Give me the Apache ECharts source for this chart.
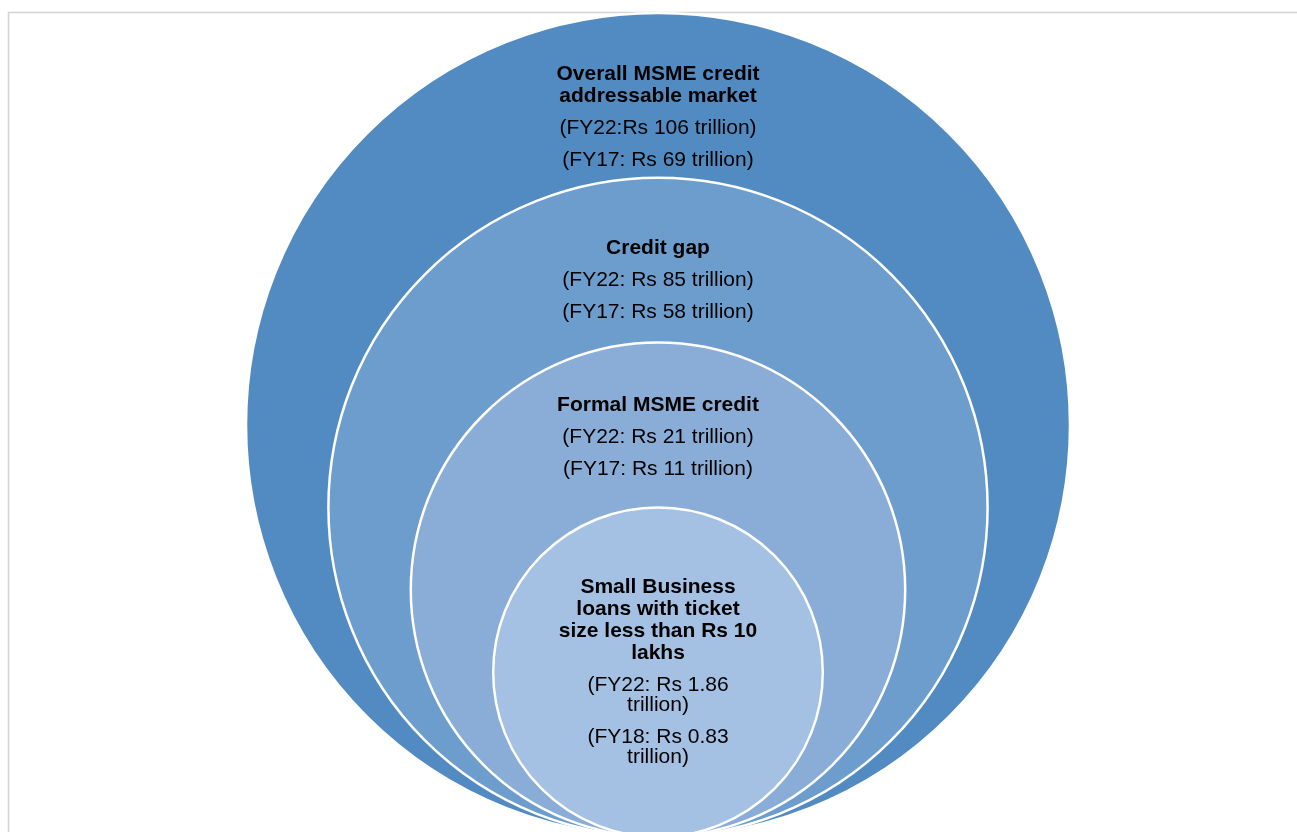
<!DOCTYPE html>
<html>
<head>
<meta charset="utf-8">
<script src="https://cdn.jsdelivr.net/npm/echarts@6/dist/echarts.min.js"></script>
<style>
  html, body { margin: 0; padding: 0; background: #fff; }
  #chart { width: 1297px; height: 832px; }
</style>
</head>
<body>
<div id="chart"></div>
<script>
// nested rings, outermost first
const levels = [0, 1, 2, 3]
const titles = [
  'Overall MSME credit\naddressable market',
  'Credit gap',
  'Formal MSME credit',
  'Small Business\nloans with ticket\nsize less than Rs 10\nlakhs'
]
const fy22Labels = [
  '(FY22:Rs 106 trillion)',
  '(FY22: Rs 85 trillion)',
  '(FY22: Rs 21 trillion)',
  '(FY22: Rs 1.86\ntrillion)'
]
const fy17Labels = [
  '(FY17: Rs 69 trillion)',
  '(FY17: Rs 58 trillion)',
  '(FY17: Rs 11 trillion)',
  '(FY18: Rs 0.83\ntrillion)'
]

const colors = ['#518BC1', '#6C9DCD', '#89ADD6', '#A4C1E4']
const textTop = [61, 70, 63, 80] // first line centre below circle top (px)
const FONT = 'Arial, "Liberation Sans", sans-serif'

const chart = echarts.init(document.getElementById('chart'))

function renderItem(params, api) {
  const lv = api.value(0)
  const r = 1 - 0.2 * lv // radius in axis units, all circles touch at the bottom
  const c = api.coord([0, r])
  const rp = api.size([r, r])[1]
  const top = c[1] - rp
  const children = [{
    type: 'circle',
    shape: { cx: c[0], cy: c[1], r: rp },
    style: { fill: colors[lv], stroke: '#fff', lineWidth: 2.5 }
  }]
  let y = top + textTop[lv]
  const blocks = [
    { lines: titles[lv].split('\n'), bold: true, step: 22 },
    { lines: fy22Labels[lv].split('\n'), bold: false, step: 20 },
    { lines: fy17Labels[lv].split('\n'), bold: false, step: 20 }
  ]
  blocks.forEach(function (b, bi) {
    if (bi > 0) y += 32
    b.lines.forEach(function (t, li) {
      if (li > 0) y += b.step
      children.push({
        type: 'text',
        style: {
          text: t,
          x: c[0],
          y: y,
          align: 'center',
          verticalAlign: 'middle',
          fill: '#000',
          font: (b.bold ? 'bold ' : '') + '21px ' + FONT
        }
      })
    })
  })
  return { type: 'group', children: children }
}

const option = {
  animation: false,
  graphic: [{
    type: 'rect',
    z: -10,
    shape: { x: 8.5, y: 12.5, width: 1400, height: 900 },
    style: { fill: 'none', stroke: '#d3d3d3', lineWidth: 1.5 }
  }],
  grid: { left: 246, top: 13, width: 824, height: 824, outerBoundsMode: 'none', containLabel: false },
  xAxis: { type: 'value', min: -1, max: 1, show: false },
  yAxis: { type: 'value', min: 0, max: 2, show: false },
  series: [{
    type: 'custom',
    clip: false,
    renderItem: renderItem,
    data: levels.map(function (l) { return [l] })
  }]
}

chart.setOption(option)
</script>
</body>
</html>
